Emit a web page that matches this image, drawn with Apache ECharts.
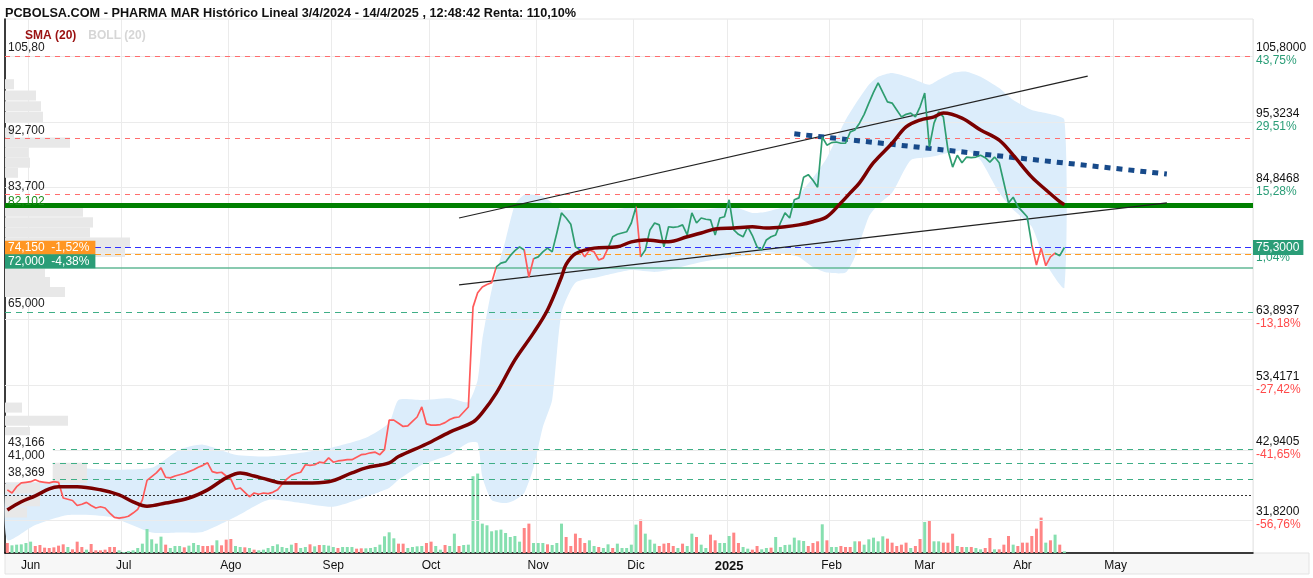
<!DOCTYPE html>
<html><head><meta charset="utf-8">
<script src="https://cdn.jsdelivr.net/npm/echarts@6/dist/echarts.min.js"></script>
<style>html,body{margin:0;padding:0;background:#fff}#c{width:1313px;height:578px}</style>
</head><body><div id="c"></div>
<script>
// ---------- DATA ----------
const titleText = 'PCBOLSA.COM - PHARMA MAR Histórico Lineal 3/4/2024 - 14/4/2025 , 12:48:42 Renta: 110,10%';
const firstDay = '2024-05-27';
const holidays = ['2024-12-25','2024-12-26','2025-01-01','2025-04-18','2025-04-21','2025-05-01'];
const axisSlots = 268;
const lastLabelMonth = '2025-05';
const monthNames = ['Ene','Feb','Mar','Abr','May','Jun','Jul','Ago','Sep','Oct','Nov','Dic'];

const price = [
 36.7,36.2,37.2,37.8,37.9,38.0,38.3,38.0,37.9,37.8,
 38.0,37.9,35.4,35.2,35.0,34.2,34.4,34.7,34.2,33.8,
 34.0,33.8,33.0,32.3,32.2,32.3,32.5,33.0,33.6,35.1,
 38.2,38.8,39.4,40.2,38.7,38.6,38.9,39.1,39.3,39.6,
 39.9,40.3,40.6,41.0,39.6,39.4,39.5,38.9,38.4,36.8,
 37.0,36.3,35.6,36.2,36.0,36.2,36.1,36.3,36.7,37.6,
 38.4,39.0,39.3,39.5,40.7,40.6,40.7,41.1,41.0,41.8,
 41.1,41.3,41.4,41.5,41.5,41.9,42.3,42.4,42.6,42.7,
 42.3,43.1,47.8,47.8,47.3,46.8,46.9,47.6,48.3,49.9,
 47.2,47.0,47.0,47.1,47.4,47.9,48.2,48.3,49.1,49.9,
 65.8,68.1,69.0,69.4,69.7,72.2,72.8,73.0,74.0,74.8,
 75.4,74.9,70.6,73.5,73.8,74.6,75.2,74.6,77.6,80.8,
 80.0,79.0,75.4,74.9,73.8,74.9,74.6,73.3,73.6,75.2,
 77.0,77.4,77.6,77.8,79.2,81.8,73.8,74.9,78.1,79.2,
 78.9,75.4,78.6,78.5,78.6,78.9,77.3,80.8,79.2,80.0,
 79.8,79.7,77.3,80.0,80.2,82.9,78.1,77.4,77.0,78.6,
 77.2,75.4,74.9,76.5,77.0,77.3,79.2,80.8,80.0,82.9,
 83.2,86.5,86.9,86.0,84.9,92.9,91.6,92.0,92.1,91.9,
 91.9,93.7,94.0,95.1,96.5,98.3,100.0,101.5,100.0,98.5,
 98.3,97.2,96.1,96.5,96.7,96.1,97.7,99.9,91.3,95.1,
 96.9,96.1,90.8,88.1,90.0,88.8,89.7,89.6,89.7,90.0,
 89.6,88.9,89.7,88.8,85.6,82.4,83.3,81.8,81.0,80.2,
 75.7,72.5,75.2,72.4,73.8,74.4,74.0,75.3
];

const smaPts = [
 [0,33.5],[3,34.8],[6,35.75],[9,36.85],[11,37.2],[15,37.2],[20,36.7],[24,35.9],[27,34.8],[30,34.1],
 [34,34.6],[39,35.4],[43,36.7],[47,38.6],[50,39.4],[53,38.9],[56,38.3],[59,37.8],[64,37.8],[69,38.0],
 [74,39.4],[77,40.2],[82,41.0],[84,42.0],[90,44.0],[95,45.9],[100,47.5],[102,49.0],[105,52.1],[109,57.4],
 [113,61.7],[116,65.35],[119,70.6],[120,72.6],[122,74.3],[126,75.2],[131,75.4],[134,76.2],[137,76.5],[142,76.2],
 [146,77.0],[149,77.6],[152,78.25],[156,78.4],[160,78.6],[163,78.4],[167,78.6],[170,78.9],[173,79.4],[176,80.2],
 [179,82.4],[181,84.0],[183,85.6],[186,88.8],[190,91.9],[193,94.5],[196,95.6],[199,96.1],[201,96.7],[205,95.9],
 [209,94.0],[213,92.4],[216,90.0],[220,86.5],[223,84.5],[226,82.6],[227,82.1]
];

// [index, upper band, lower band]
const bollPts = [
 [0,38.6,28.7],[6,39.6,31.1],[13,40.2,32.7],[22,39.9,32.4],[31,40.2,29.9],[37,43.1,29.9],[42,43.9,30.0],
 [49,42.3,32.4],[56,42.0,35.1],[63,42.6,34.6],[70,43.5,34.0],[77,45.0,35.6],[82,47.4,37.0],[84,51.0,38.3],
 [89,51.0,40.7],[95,51.3,42.3],[99,50.7,44.2],[101,54.2,44.2],[102,60.6,38.8],[104,68.5,35.1],[107,76.5,34.6],
 [109,82.1,35.1],[111,83.7,36.2],[113,83.7,40.2],[115,83.4,46.7],[117,82.4,51.0],[119,81.3,64.9],[122,81.3,69.7],
 [127,81.3,70.6],[131,81.4,71.3],[134,81.8,71.7],[139,81.8,71.4],[142,81.6,71.7],[149,81.3,73.0],[156,81.8,73.8],
 [160,80.8,74.1],[163,81.0,74.6],[168,82.1,74.1],[170,83.7,73.8],[173,86.4,72.2],[176,89.6,71.3],[180,95.6,71.3],
 [182,98.0,73.8],[185,101.2,80.2],[187,102.5,82.1],[190,103.1,84.0],[194,102.3,89.2],[198,101.2,89.7],[200,102.0,90.0],
 [203,103.1,90.5],[206,103.3,90.8],[209,102.5,89.2],[213,100.7,84.0],[216,98.8,81.3],[220,97.2,78.6],[223,96.7,72.8],
 [227,95.6,68.9]
];

const volume = [
 300,230,250,260,300,340,210,240,160,150,
 170,220,260,180,110,340,180,100,270,80,
 80,100,180,180,80,30,60,80,150,280,
 720,410,280,490,250,150,210,210,170,220,
 300,240,210,210,230,380,230,400,420,210,
 180,170,150,100,80,100,150,210,260,180,
 150,250,300,150,180,260,200,240,240,220,
 180,150,180,180,180,130,140,140,150,180,
 250,500,620,440,280,280,150,180,200,210,
 300,340,210,100,240,210,580,210,240,250,
 2300,2380,880,830,650,680,700,600,480,510,
 340,750,880,300,300,300,260,240,300,880,
 480,210,580,450,300,380,210,180,150,260,
 150,280,150,150,250,850,1000,580,400,280,
 210,280,300,210,150,280,210,580,480,250,
 150,550,380,300,300,510,610,300,180,130,
 100,210,110,150,160,480,180,240,250,460,
 380,360,210,300,350,860,380,180,180,210,
 180,180,350,350,250,410,460,350,500,430,
 310,210,250,310,150,210,420,930,960,350,
 350,310,310,580,210,180,180,180,150,110,
 150,450,110,110,250,510,250,210,310,310,
 510,730,1060,310,380,550,250,50
];
// g = up day, r = down day
const volDir =
 'rgggggrrrr'+'rrrgrrrgrr'+'rrrrgggggg'+'ggggrgggrg'+'ggrrrgrrrg'+
 'grgrgggggg'+'ggrggrgrgg'+'grgggrrggg'+'ggggrrgggg'+'rrggrggrgg'+
 'gggggggggg'+'grrgggrggg'+'rrrrrggrgg'+'rgggggrggg'+'rrrrgrggrg'+
 'grrgggrrgg'+'rrggrggggg'+'ggrrrgrggr'+'rrgrgggggr'+'rrrrgrrgrg'+
 'grrrgrgrgg'+'rrgrrrgrrr'+'rrrgrgrg';

// volume-by-price profile
const profPrice = [101.3,99.5,97.8,96.1,93.6,92.0,90.4,88.8,87.2,81.0,79.3,77.7,76.1,74.6,73.0,71.4,69.8,68.2,49.8,47.7,45.9,40.2,38.6,36.9,34.9,33.1];
const profVol   = [9,31,36,38,9,65,23,25,13,78,88,85,125,120,40,40,45,60,17,63,25,82,82,35,35,22];

const levelValues = [105.8, 92.7, 83.7, 82.102, 75.3, 74.15, 72.0, 65.0, 43.166, 41.0, 38.369, 35.84];
const levelLabels = ['105,80','92,700','83,700','82,102','','74,150  -1,52%','72,000  -4,38%','65,000','43,166','41,000','38,369',''];
const lastPriceLabel = '75,3000';

const tickValues = [105.8, 95.3234, 84.8468, 74.3702, 63.8937, 53.4171, 42.9405, 31.82];
const tickTexts  = ['105,8000','95,3234','84,8468','','63,8937','53,4171','42,9405','31,8200'];
const tickPct    = ['43,75%','29,51%','15,28%','1,04%','-13,18%','-27,42%','-41,65%','-56,76%'];

const trendUpper = [[97,80.0],[232,102.6]];
const trendLower = [[97,69.35],[249,82.4]];
const trendResist = [[169,93.4],[249,87.0]];

// ---------- BUILD ----------
function tradingDays(){
  const out=[]; const d=new Date(firstDay+'T00:00:00Z');
  while(out.length<axisSlots){
    const wd=d.getUTCDay(); const s=d.toISOString().slice(0,10);
    if(wd!==0 && wd!==6 && holidays.indexOf(s)<0) out.push(s);
    d.setUTCDate(d.getUTCDate()+1);
  }
  return out;
}
const cats = tradingDays();
function isMonthStart(i){ return i>0 && cats[i].slice(0,7)<=lastLabelMonth && cats[i].slice(5,7)!==cats[i-1].slice(5,7); }

const FONT = 'Liberation Sans, Arial, sans-serif';
const RED='#ff5a5a', GREEN='#2f9d70';
const CLEAR='rgba(0,0,0,0)';
const redSpans = [[0,105],[111,113],[123,129],[135,136],[220,225]];
const pieces=[]; let prevB=-1;
redSpans.forEach(([a,b])=>{ if(a>prevB) pieces.push({gt:prevB,lt:a,color:GREEN}); pieces.push({gte:a,lte:b,color:RED}); prevB=b; });
pieces.push({gt:prevB,lte:axisSlots,color:GREEN});

const levelStyles = [
 {color:'#ff6e6e',type:[5,5],width:1},
 {color:'#ff6e6e',type:[5,5],width:1},
 {color:'#ff6e6e',type:[5,5],width:1},
 null,
 {color:'#3030ff',type:[6,4],width:1.2},
 {color:'#ff9a1f',type:[6,4],width:1.2},
 {color:'#62b996',type:'solid',width:1.5},
 {color:'#3fae86',type:[6,5],width:1.2},
 {color:'#3fae86',type:[6,5],width:1.2},
 {color:'#3fae86',type:[6,5],width:1.2},
 {color:'#3fae86',type:[6,5],width:1.2},
 {color:'#333',type:[2,2],width:1}
];
const labelKinds = ['plain','plain','plain','greenText','none','orangeBox','greenBox','plain','whiteBg','whiteBg','whiteBg','none'];

// lines (grid + levels)
const lineItems = tickValues.map(v=>({yAxis:v, lineStyle:{color:'#ebebeb',type:'solid',width:1}, label:{show:false}}));
levelValues.forEach((v,k)=>{
  if(levelStyles[k]) lineItems.push({yAxis:v, lineStyle:levelStyles[k], label:{show:false}});
});
lineItems.push({yAxis:levelValues[3], lineStyle:{color:CLEAR, width:1}, label:{show:true, position:'insideStartTop', distance:[3,-3], formatter:levelLabels[3], color:'#1c8a1c', fontSize:12}});

const labelItems = [];
levelValues.forEach((v,k)=>{
  const kind = labelKinds[k];
  if(kind==='none' || kind==='greenText') return;
  const lab = {show:true, position:'insideStartTop', formatter:levelLabels[k], fontSize:12, color:'#222'};
  if(kind==='plain'){ lab.distance=[3,2]; }
  if(kind==='whiteBg'){ lab.distance=[0,-3]; lab.backgroundColor='#fff'; lab.padding=[1,8,4,3]; }
  if(kind==='orangeBox'){ lab.distance=[0,0]; lab.backgroundColor='#ff9622'; lab.color='#fff'; lab.padding=[1,6,1,3]; }
  if(kind==='greenBox'){ lab.distance=[0,0]; lab.backgroundColor='#2a9d77'; lab.color='#fff'; lab.padding=[1,6,1,3]; }
  labelItems.push({yAxis:v, lineStyle:{color:CLEAR, width:1}, label:lab});
});
labelItems.push({yAxis:levelValues[4], lineStyle:{color:CLEAR, width:1}, label:{show:true, position:'end', distance:0, formatter:lastPriceLabel, backgroundColor:'#2a9d77', color:'#fff', fontSize:12, padding:[2,4,1,3]}});

const yMin = 26.64, yMax = 111.69;

const option = {
  animation:false,
  textStyle:{fontFamily:FONT},
  title:{text:titleText, left:5, top:7, padding:0, textStyle:{fontSize:12.7, fontWeight:'bold', color:'#111', fontFamily:FONT}},
  legend:{left:15, top:24, icon:'none', itemWidth:0, itemHeight:14, itemGap:7, selectedMode:false,
    data:[{name:'SMA (20)', textStyle:{color:'#9a1010', fontWeight:'bold', fontSize:12}},
          {name:'BOLL (20)', textStyle:{color:'#d6d6d6', fontWeight:'bold', fontSize:12}}]},
  grid:{left:5, right:60, top:19, bottom:25, show:true, borderColor:'#e4e4e4', borderWidth:1, containLabel:false, outerBoundsMode:'none'},
  graphic:{elements:[{type:'rect', z:-10, silent:true, shape:{x:5, y:553, width:1304, height:21}, style:{fill:'#f7f7f7', stroke:'#e3e3e3'}}]},
  visualMap:{type:'piecewise', show:false, seriesIndex:5, dimension:0, pieces:pieces},
  xAxis:[{
    type:'category', data:cats, boundaryGap:true,
    axisLine:{show:true, lineStyle:{color:'#000', width:1.5}},
    axisTick:{show:false},
    axisLabel:{interval:(i)=>isMonthStart(i), margin:7, fontSize:12, color:'#111',
      formatter:(v)=>{ const m=+v.slice(5,7)-1; return m===0 ? '{y|'+v.slice(0,4)+'}' : monthNames[m]; },
      rich:{y:{fontWeight:'bold', fontSize:13, color:'#111'}}},
    splitLine:{show:true, interval:(i)=>isMonthStart(i), lineStyle:{color:'#ebebeb'}}
  },{
    type:'value', min:0, max:1248, show:false, position:'top'
  }],
  yAxis:[{
    type:'value', position:'right', min:yMin, max:yMax,
    axisLine:{show:true, lineStyle:{color:'#000', width:1.5}},
    axisTick:{show:false}, splitLine:{show:false},
    axisLabel:{customValues:tickValues, margin:3, padding:[0,0,4,0],
      formatter:(v)=>{ const k=tickValues.findIndex(t=>Math.abs(t-v)<1e-6); if(k<0) return '';
        const p=tickPct[k]; const pc = p.charAt(0)==='-' ? 'r':'g';
        return (tickTexts[k]?'{v|'+tickTexts[k]+'}':'{v| }')+'\n{'+pc+'|'+p+'}'; },
      rich:{v:{color:'#111', fontSize:12, lineHeight:13}, g:{color:'#2a9d77', fontSize:12, lineHeight:13}, r:{color:'#ff4a4a', fontSize:12, lineHeight:13}}}
  },{
    type:'value', min:0, max:16000, show:false
  }],
  series:[
    { // 0 Bollinger band
      type:'custom', name:'BOLL (20)', xAxisIndex:0, yAxisIndex:0, z:1, silent:true,
      data:bollPts.map(p=>[p[0],p[1],p[2]]), encode:{x:0, y:[1,2]},
      renderItem:(params, api)=>{
        if(params.dataIndex!==0) return null;
        const up = bollPts.map(p=>api.coord([p[0],p[1]]));
        const lo = bollPts.map(p=>api.coord([p[0],p[2]])).reverse();
        return {type:'polygon', shape:{points:up.concat(lo), smooth:0.2}, style:{fill:'#dcedfb'}};
      }
    },
    { // 1 volume profile
      type:'custom', name:'profile', xAxisIndex:1, yAxisIndex:0, z:1, silent:true,
      data:profVol.map((w,k)=>[w, profPrice[k]]), encode:{x:0, y:1},
      renderItem:(params, api)=>{
        const w=api.value(0), p=api.value(1), h=0.8;
        const a=api.coord([0,p+h]), b=api.coord([w,p-h]);
        return {type:'rect', shape:{x:a[0], y:a[1], width:b[0]-a[0], height:b[1]-a[1]}, style:{fill:'#e8e8e8'}};
      }
    },
    { // 2 volume
      type:'bar', name:'Volumen', xAxisIndex:0, yAxisIndex:1, z:2, barWidth:3, silent:true,
      data:volume.map((v,i)=>({value:v, itemStyle:{color: volDir.charAt(i)==='g' ? '#86dfaf' : '#ff8585'}}))
    },
    { // 3 grid + level lines
      type:'line', name:'levels', data:[], z:2, silent:true,
      markLine:{silent:true, symbol:['none','none'], animation:false, data:lineItems}
    },
    { // 4 thick support line
      type:'line', name:'support', data:[], z:3, silent:true,
      markLine:{silent:true, symbol:['none','none'], animation:false,
        data:[{yAxis:levelValues[3], lineStyle:{color:'#008000', width:5, type:'solid'}, label:{show:false}}]}
    },
    { // 5 price
      type:'line', name:'PHARMA MAR', data:price, z:5, showSymbol:false, silent:true,
      lineStyle:{width:1.7}
    },
    { // 6 SMA
      type:'line', name:'SMA (20)', data:smaPts, z:6, showSymbol:false, smooth:0.35, silent:true,
      lineStyle:{color:'#7a0000', width:3.5}, itemStyle:{color:'#7a0000'}
    },
    { // 7 trend lines
      type:'line', name:'trend', data:[], z:7, silent:true,
      markLine:{silent:true, symbol:['none','none'], animation:false, label:{show:false},
        data:[
          [{coord:trendUpper[0]},{coord:trendUpper[1]}],
          [{coord:trendLower[0]},{coord:trendLower[1]}],
          [{coord:trendResist[0], lineStyle:{color:'#174a8a', width:5, type:[6,6]}},{coord:trendResist[1]}]
        ],
        lineStyle:{color:'#222', width:1.2, type:'solid'}}
    },
    { // 8 labels
      type:'line', name:'labels', data:[], z:9, silent:true,
      markLine:{silent:true, symbol:['none','none'], animation:false, data:labelItems}
    }
  ]
};
const chart = echarts.init(document.getElementById('c'));
chart.setOption(option);
</script>
</body></html>
